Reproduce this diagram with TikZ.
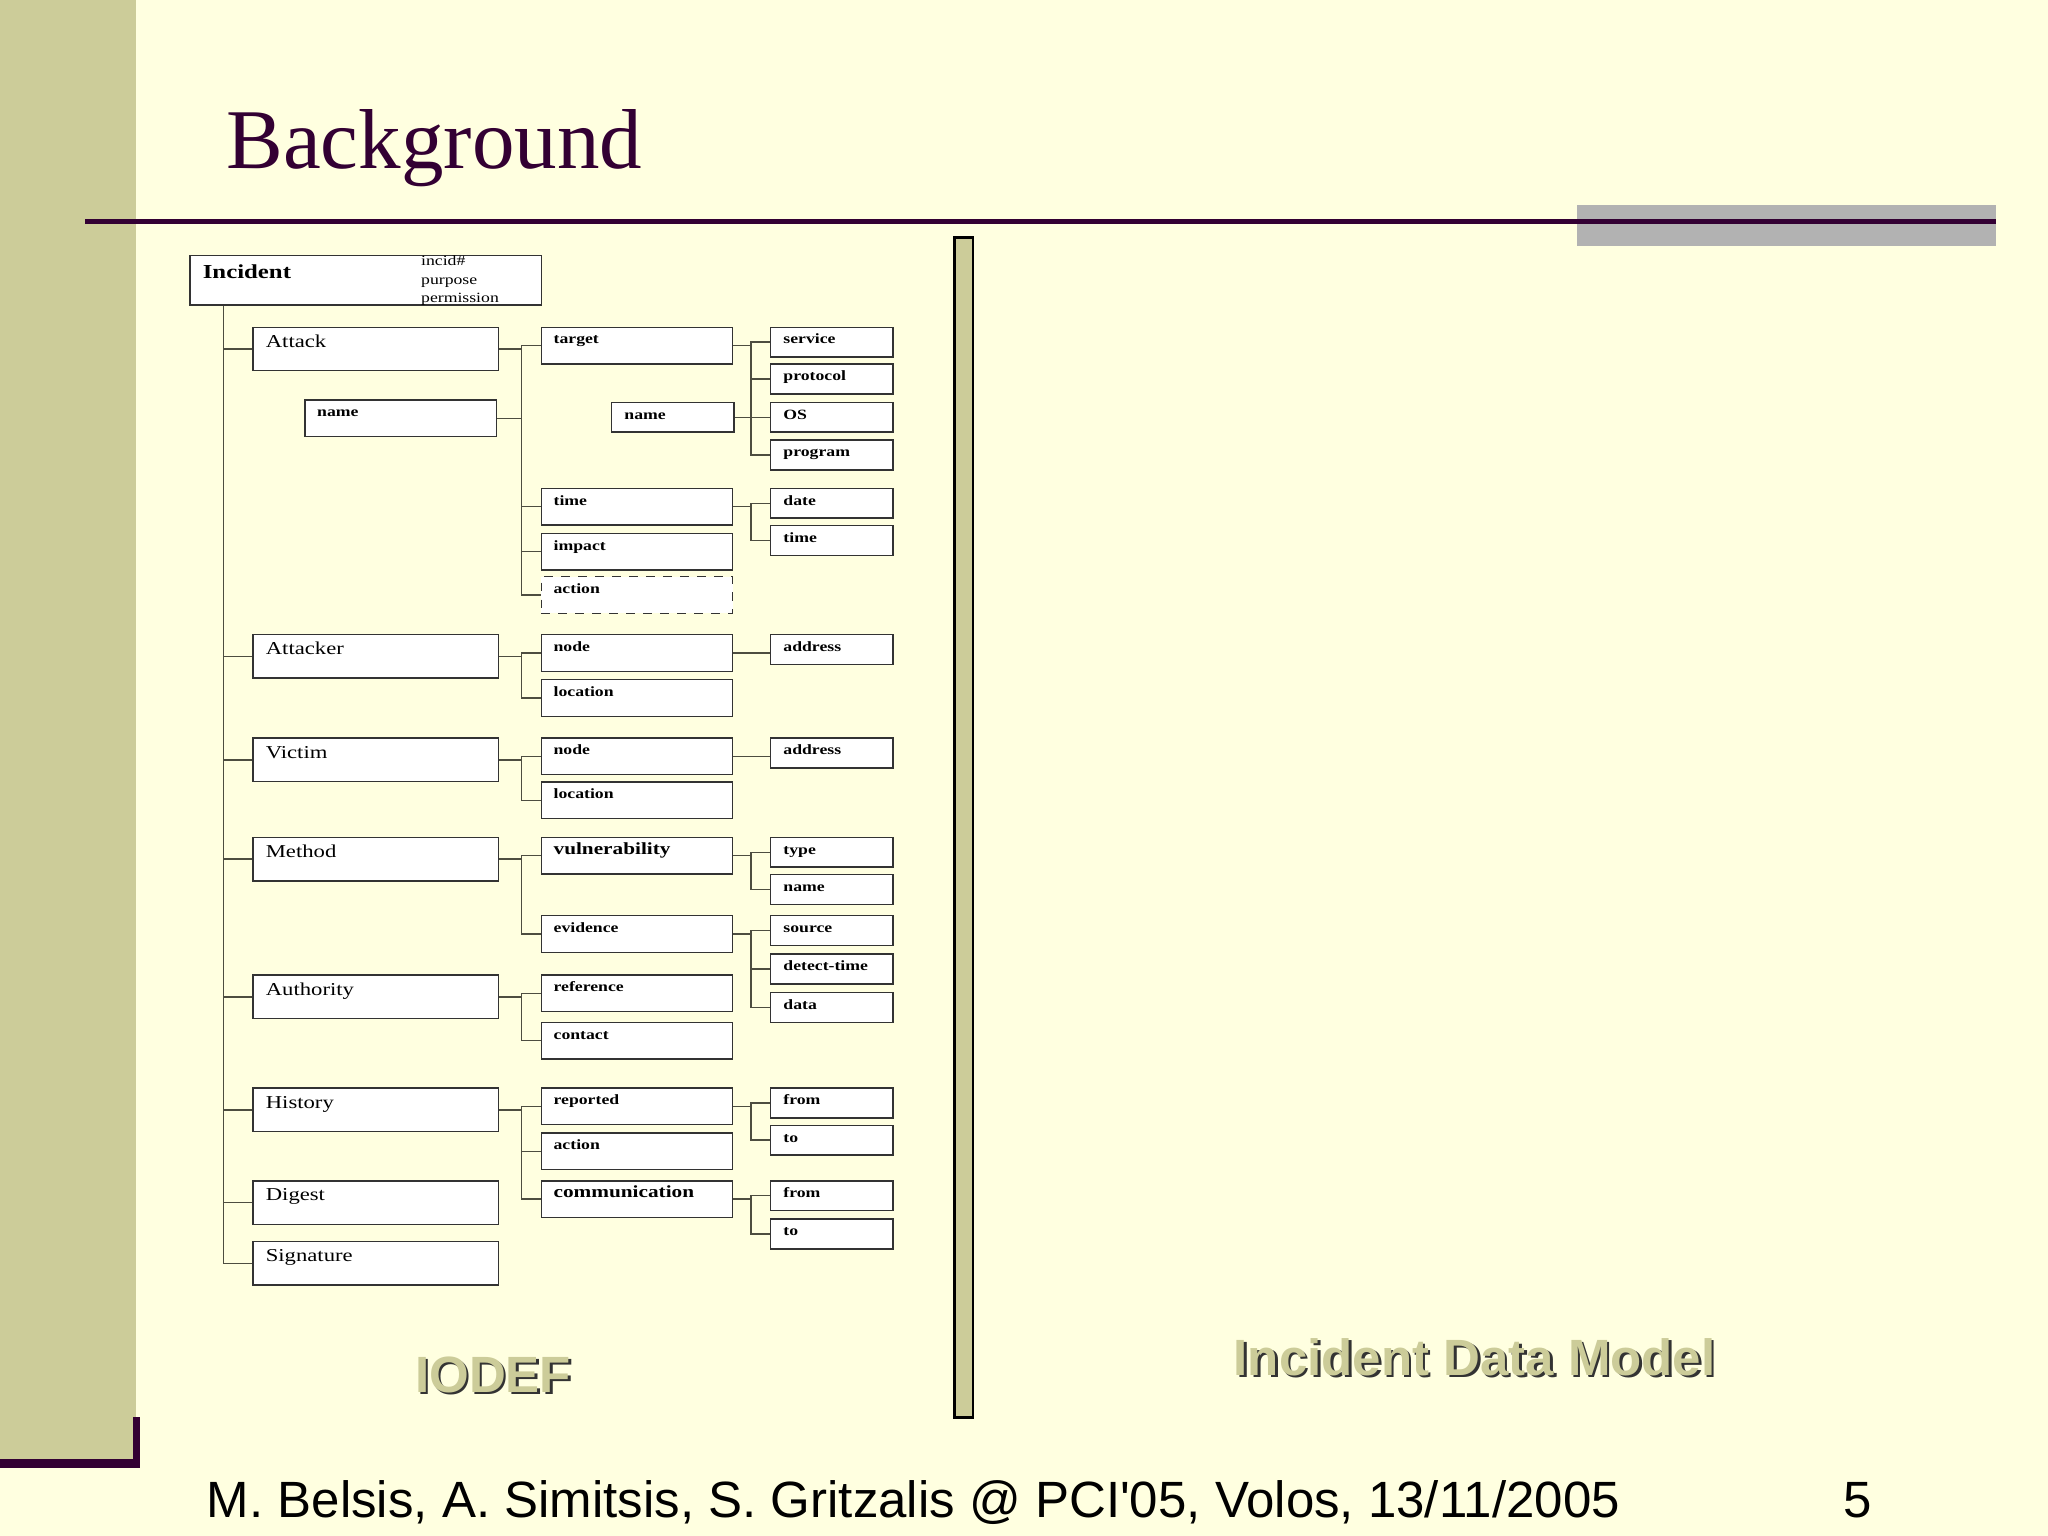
\documentclass[tikz,border=0pt]{standalone}
\usepackage{fontspec}
\setmainfont{Liberation Serif}
\setsansfont{Liberation Sans}
\newfontfamily\diagfont[FakeStretch=1.25]{Liberation Serif}
\usetikzlibrary{math}

\definecolor{slidebg}{HTML}{FFFFE0}
\definecolor{barolive}{HTML}{CCCC99}
\definecolor{titlepurple}{HTML}{330033}
\definecolor{bargray}{HTML}{B2B2B2}
\definecolor{boxline}{HTML}{333333}
\definecolor{linkline}{HTML}{4D4D40}

\begin{document}
\begin{tikzpicture}[x=0.4609pt,y=-0.4609pt,
  every node/.style={inner sep=0pt},
  box/.style={draw=boxline,fill=white,line width=0.5pt,anchor=north west,align=left},
  topbox/.style={box,inner xsep=4.5pt,text width=114.9pt,text height=8pt,text depth=9.5pt,
    font=\diagfont\bfseries\fontsize{7}{8}\selectfont},
  lvlone/.style={box,inner xsep=4.6pt,text width=77.5pt,text height=7.05pt,text depth=8.3pt,
    font=\diagfont\fontsize{6.4}{7.5}\selectfont},
  lvltwo/.style={box,inner xsep=4.3pt,text width=58.9pt,text height=5.9pt,text depth=7pt,
    font=\diagfont\bfseries\fontsize{5}{6}\selectfont},
  lvlthree/.style={box,inner xsep=4.5pt,text width=34.1pt,text height=5.9pt,text depth=4.6pt,
    font=\diagfont\bfseries\fontsize{5}{6}\selectfont},
  bigger/.style={font=\diagfont\bfseries\fontsize{6}{7}\selectfont},
  link/.style={draw=linkline,line width=0.5pt},
  caption/.style={anchor=base,font=\sffamily\bfseries\fontsize{18}{22}\selectfont}]

  \tikzmath{
    \colA  = 193;   % left edge of the first level
    \colB  = 414;   % left edge of the second level
    \colC  = 589.5; % left edge of the third level
    \stubA = 17;    % from first level to its spine
    \stubB = 13.5;  % from second level to its spine
  }

  \useasboundingbox (0,0) rectangle (1568,1176);

  % slide background
  \fill[slidebg] (0,0) rectangle (1568,1176);
  \fill[barolive] (0,0) rectangle (104,1117);
  \fill[titlepurple] (0,1117) rectangle (107,1124);
  \fill[titlepurple] (102,1085) rectangle (107,1124);
  \fill[bargray] (1207,157) rectangle (1528,188);
  \fill[titlepurple] (65,168) rectangle (1528,171.5);
  \draw[black,line width=1pt,fill=barolive] (731,182) rectangle (745,1085);

  \node[anchor=base west,text=titlepurple,font=\fontsize{30}{36}\selectfont]
    (title) at (173,129) {Background};

  % root
  \node[topbox,minimum height=17.5pt] (incident) at (145,195) {Incident};
  \node[anchor=north west,align=left,font=\diagfont\fontsize{5}{6.45}\selectfont]
    (incattr) at (322,195.5) {incid\#\\purpose\\permission};

  % first level
  \node[lvlone] (attack)    at (\colA,250)   {Attack};
  \node[lvlone] (attacker)  at (\colA,485.4) {Attacker};
  \node[lvlone] (victim)    at (\colA,564.6) {Victim};
  \node[lvlone] (method)    at (\colA,640.6) {Method};
  \node[lvlone] (authority) at (\colA,746)   {Authority};
  \node[lvlone] (history)   at (\colA,832.5) {History};
  \node[lvlone] (digest)    at (\colA,903.5) {Digest};
  \node[lvlone] (signature) at (\colA,950)   {Signature};

  % second level
  \node[lvltwo] (aname)     at (233,305.8)   {name};
  \node[lvltwo] (target)    at (\colB,250)   {target};
  \node[lvltwo] (atime)     at (\colB,373.4) {time};
  \node[lvltwo] (impact)    at (\colB,407.8) {impact};
  \node[lvltwo,dashed] (action) at (\colB,441) {action};
  \node[lvltwo] (atknode)   at (\colB,485.4) {node};
  \node[lvltwo] (atkloc)    at (\colB,519.9) {location};
  \node[lvltwo] (vicnode)   at (\colB,564.6) {node};
  \node[lvltwo] (vicloc)    at (\colB,598.2) {location};
  \node[lvltwo,bigger] (vuln) at (\colB,640.6) {vulnerability};
  \node[lvltwo] (evidence)  at (\colB,700.6) {evidence};
  \node[lvltwo] (reference) at (\colB,746)   {reference};
  \node[lvltwo] (contact)   at (\colB,782.3) {contact};
  \node[lvltwo] (reported)  at (\colB,832.5) {reported};
  \node[lvltwo] (haction)   at (\colB,867)   {action};
  \node[lvltwo,bigger] (comm) at (\colB,903.5) {communication};

  % third level
  \node[lvlthree] (tname)    at (467.8,307.5) {name};
  \node[lvlthree] (service)  at (\colC,250)   {service};
  \node[lvlthree] (protocol) at (\colC,278.3) {protocol};
  \node[lvlthree] (os)       at (\colC,307.5) {OS};
  \node[lvlthree] (program)  at (\colC,336.4) {program};
  \node[lvlthree] (date)     at (\colC,373.4) {date};
  \node[lvlthree] (ttime)    at (\colC,402)   {time};
  \node[lvlthree] (atkaddr)  at (\colC,485.4) {address};
  \node[lvlthree] (vicaddr)  at (\colC,564.6) {address};
  \node[lvlthree] (vtype)    at (\colC,640.6) {type};
  \node[lvlthree] (vname)    at (\colC,669.2) {name};
  \node[lvlthree] (source)   at (\colC,700.6) {source};
  \node[lvlthree] (dtime)    at (\colC,729.9) {detect-time};
  \node[lvlthree] (data)     at (\colC,759.3) {data};
  \node[lvlthree] (repfrom)  at (\colC,832.5) {from};
  \node[lvlthree] (repto)    at (\colC,861)   {to};
  \node[lvlthree] (comfrom)  at (\colC,903.5) {from};
  \node[lvlthree] (comto)    at (\colC,932.8) {to};

  % main spine
  \path (incident.south west) ++(26,0) coordinate (spine);
  \draw[link] (spine) -- (spine |- signature.west);
  \foreach \n in {attack,attacker,victim,method,authority,history,digest,signature}
    \draw[link] (spine |- \n.west) -- (\n.west);

  % first level to second level
  \foreach \p/\c in {attack/target,attack/atime,attack/impact,attack/action,
      attacker/atknode,attacker/atkloc,victim/vicnode,victim/vicloc,
      method/vuln,method/evidence,authority/reference,authority/contact,
      history/reported,history/haction,history/comm}
    \draw[link] (\p.east) -- ++(\stubA,0) |- (\c.west);
  \draw[link] (attack.east) -- ++(\stubA,0) |- (aname.east);

  % second level to third level
  \foreach \p/\c in {target/service,target/protocol,target/os,target/program,
      atime/date,atime/ttime,vuln/vtype,vuln/vname,
      evidence/source,evidence/dtime,evidence/data,
      reported/repfrom,reported/repto,comm/comfrom,comm/comto}
    \draw[link] (\p.east) -- ++(\stubB,0) |- (\c.west);
  \draw[link] (target.east) -- ++(\stubB,0) |- (tname.east);
  % single children, straight across
  \foreach \p/\c in {atknode/atkaddr,vicnode/vicaddr}
    \draw[link] (\p.east) -- (\p.east -| \c.west);

  % captions with shadow
  \node[caption,text=black!80] (iodefshadow) at (379.5,1068) {IODEF};
  \node[caption,text=barolive] (iodef) at (377.5,1066) {IODEF};
  \node[caption,text=black!80] (idmshadow) at (1131,1055) {Incident Data Model};
  \node[caption,text=barolive] (idm) at (1129,1053) {Incident Data Model};

  % footer
  \node[anchor=base west,font=\sffamily\fontsize{18}{22}\selectfont] (footer) at (158,1162)
    {M. Belsis, A. Simitsis, S. Gritzalis @ PCI\textquotesingle 05, Volos, 13/11/2005};
  \node[anchor=base west,font=\sffamily\fontsize{18}{22}\selectfont] (pagenum) at (1411,1162) {5};

\end{tikzpicture}
\end{document}
